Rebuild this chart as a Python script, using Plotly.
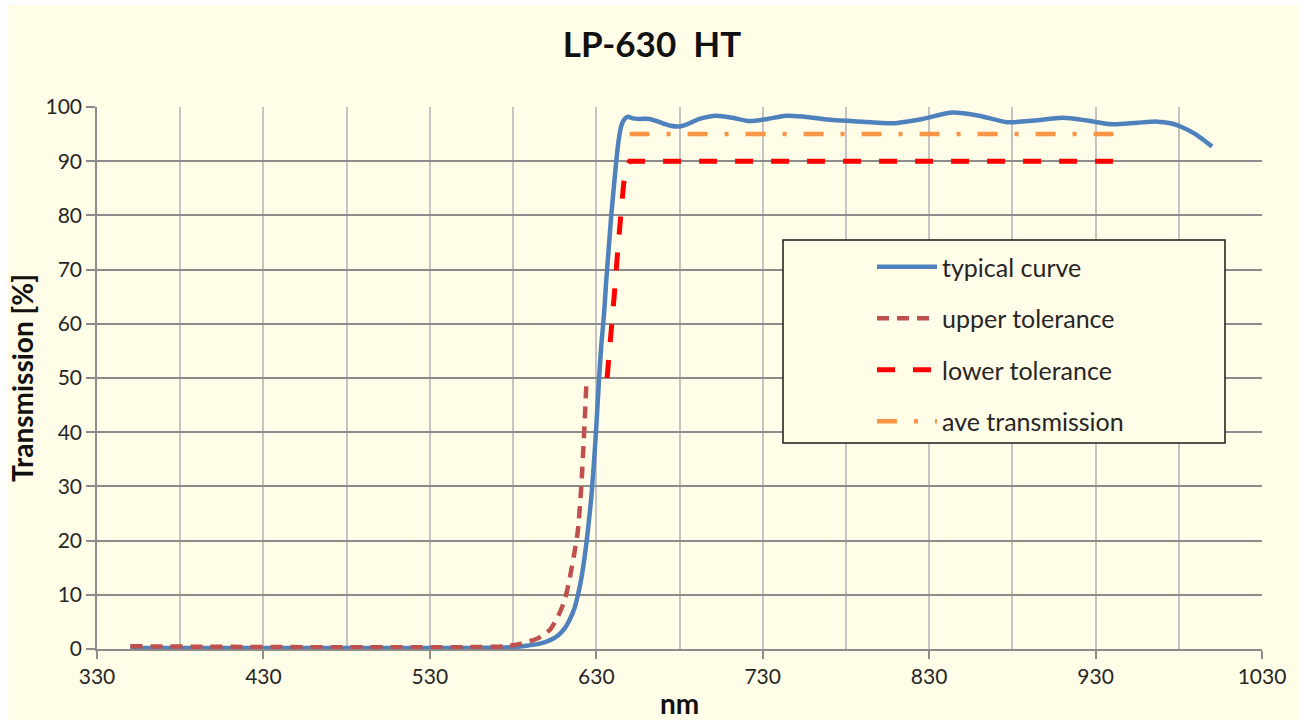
import plotly.graph_objects as go

# ---------------- data ----------------
typ_wl = [350, 400, 450, 500, 550, 578, 588, 596, 602, 607, 611, 614, 617, 619, 621, 623,
          625, 627, 628.5, 630, 631.5, 633, 634.7, 636, 637.5, 639, 640.5, 642, 643.5, 645,
          647, 649, 652, 656, 662, 668, 674, 680, 686, 692, 702, 712, 722, 733, 744, 755,
          772, 790, 808, 826, 844, 860, 877, 893, 910, 925, 940, 955, 967, 975, 981, 990, 1000]
typ_t = [0.2, 0.2, 0.2, 0.2, 0.2, 0.3, 0.6, 1.0, 1.6, 2.5, 3.8, 5.4, 7.6, 10, 13, 17,
         22, 28, 34, 41, 49, 56, 62, 68, 74, 80, 85, 90, 94, 96.5,
         97.8, 98.2, 97.9, 97.8, 97.8, 97.2, 96.6, 96.4, 97.0, 97.8, 98.4, 98.0, 97.4, 97.8, 98.4, 98.2,
         97.6, 97.3, 97.0, 97.8, 99.0, 98.4, 97.2, 97.5, 98.0, 97.5, 96.8, 97.1, 97.3, 97.0, 96.4, 95.0, 92.7]

upper_wl = [350, 575, 585, 595, 602, 607, 611, 614, 617, 619, 621, 622.7, 624.2]
upper_t = [0.5, 0.5, 1, 2, 3.5, 6, 9, 13, 18, 22, 30, 40, 50]

lower_wl = [636.5, 639, 641, 643, 645, 646.5, 648, 650, 950]
lower_t = [50, 58, 66, 74, 81, 86, 88.8, 90, 90]

ave_wl = [650, 950]
ave_t = [95, 95]

x_ticks = [330, 430, 530, 630, 730, 830, 930, 1030]
y_ticks = [0, 10, 20, 30, 40, 50, 60, 70, 80, 90, 100]

series_names = ["typical curve", "upper tolerance", "lower tolerance", "ave transmission"]

FONT = "Lato"
TXT = "#262626"

fig = go.Figure()
fig.add_trace(go.Scatter(x=typ_wl, y=typ_t, mode="lines", name=series_names[0],
                         legendgroup="a", line=dict(color="#4F81BD", width=4.5, shape="spline", smoothing=0.7)))
fig.add_trace(go.Scatter(x=upper_wl, y=upper_t, mode="lines", name=series_names[1],
                         legendgroup="b", line=dict(color="#C0504D", width=4.5, dash="12px,8px", shape="spline", smoothing=0.6)))
fig.add_trace(go.Scatter(x=lower_wl, y=lower_t, mode="lines", name=series_names[2],
                         legendgroup="c", line=dict(color="#FF0000", width=5, dash="18px,18px")))
fig.add_trace(go.Scatter(x=ave_wl, y=ave_t, mode="lines", name=series_names[3],
                         legendgroup="d", line=dict(color="#F79646", width=4.5, dash="20px,17px,4px,17px")))

L, R, T, B = 97, 42, 107, 71
W, H = 1304, 720
pw, ph = W - L - R, H - T - B

def px(xp):
    return (xp - L) / pw

def py(yp):
    return (H - B - yp) / ph

shapes = [
    # yellow chart area
    dict(type="rect", xref="paper", yref="paper", x0=px(7), x1=px(1300), y0=py(720), y1=py(5),
         fillcolor="#FFFDE7", line=dict(width=0), layer="below"),
    # legend box
    dict(type="rect", xref="paper", yref="paper", x0=px(783), x1=px(1225), y0=py(443), y1=py(240),
         fillcolor="#FFFDE7", line=dict(color="#1a1a1a", width=1.5), layer="above"),
]

fig.update_layout(
    width=W, height=H,
    margin=dict(l=L, r=R, t=T, b=B),
    paper_bgcolor="white",
    plot_bgcolor="white",
    font=dict(family=FONT, color=TXT, size=21),
    title=dict(text="<b>LP-630  HT</b>", x=0.5, xref="container", xanchor="center",
               y=1 - 45 / H, yanchor="middle", font=dict(size=35, color="#111111", family=FONT)),
    shapes=shapes,
    showlegend=True,
    legend=dict(x=px(872), y=py(244), xanchor="left", yanchor="top",
                bgcolor="rgba(0,0,0,0)", borderwidth=0,
                traceorder="grouped", tracegroupgap=16,
                font=dict(size=25, color=TXT, family=FONT), itemwidth=60),
    xaxis=dict(range=[330, 1030], tickvals=x_ticks, ticktext=[str(v) for v in x_ticks],
               showgrid=False, zeroline=False, automargin=False,
               showline=True, linecolor="#8C8C8C", linewidth=1.5,
               ticks="outside", ticklen=8, tickcolor="#8C8C8C", tickwidth=1.5,
               tickfont=dict(size=21, color=TXT),
               minor=dict(dtick=50, tick0=330, showgrid=True, gridcolor="#C4C4C4", gridwidth=1.5),
               title=dict(text="<b>nm</b>", font=dict(size=28, color="#111111"), standoff=8)),
    yaxis=dict(range=[0, 100], tickvals=y_ticks, showgrid=True, gridcolor="#8C8C8C", gridwidth=1.5,
               zeroline=False, showline=True, linecolor="#8C8C8C", linewidth=1.5, automargin=False,
               ticks="outside", ticklen=9, tickcolor="#8C8C8C", tickwidth=1.5,
               tickfont=dict(size=21, color=TXT),
               title=dict(text="<b>Transmission [%]</b>", font=dict(size=28, color="#111111"), standoff=4)),
)

fig.write_html("out.html", config={"displayModeBar": False},
               post_script="document.body.style.margin='0px';")
